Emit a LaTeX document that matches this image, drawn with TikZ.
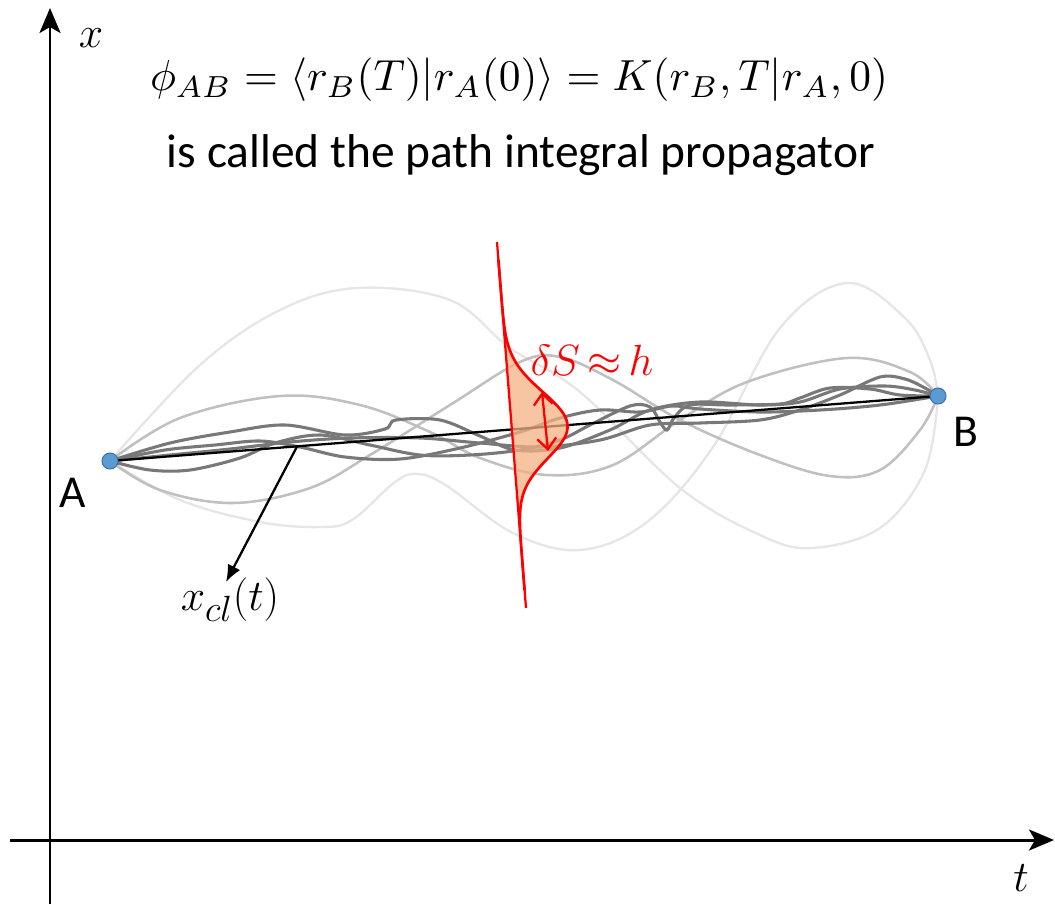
\documentclass[tikz,border=0pt]{standalone}
\usepackage{fontspec}
\newfontfamily\calib{Carlito}
\usetikzlibrary{arrows.meta,calc}
\definecolor{dotblue}{HTML}{5B9BD5}
\definecolor{dotedge}{HTML}{41719C}
\definecolor{peach}{HTML}{F4B183}
\definecolor{gdark}{HTML}{787878}
\definecolor{gmed}{HTML}{C0C0C0}
\definecolor{glight}{HTML}{E6E6E6}
\tikzset{
  axis/.style={line width=1.7pt,-{Stealth[length=0.5cm,width=0.42cm,inset=0.12cm]}},
  darkpath/.style={gdark,line width=1.75pt},
  medpath/.style={gmed,line width=1.45pt},
  lightpath/.style={glight,line width=1.35pt},
  dotnode/.style={circle,fill=dotblue,draw=dotedge,line width=0.6pt,minimum size=0.32cm,inner sep=0pt},
  sanslabel/.style={font=\calib\fontsize{26}{30}\selectfont,inner sep=0pt},
  itlabel/.style={font=\fontsize{24.88}{30}\selectfont,inner sep=0pt},
}
\begin{document}
\begin{tikzpicture}[x=0.02cm,y=-0.02cm]
\useasboundingbox (0,0) rectangle (1055,904);
% axes
\coordinate (ax0) at (50,904);
\coordinate (ax1) at (50,8);
\coordinate (at0) at (10,840);
\coordinate (at1) at (1054,840);
\draw[axis] (ax0) -- (ax1);
\draw[axis] (at0) -- (at1);
\node[itlabel] (xlab) at (91,38) {$x$};
\node[itlabel] (tlab) at (1021,878) {$t$};
% header
\node[inner sep=0pt] (eq) at (519,80) {\resizebox{14.76cm}{!}{$\phi_{AB}=\langle r_B(T)|r_A(0)\rangle = K(r_B,T|r_A,0)$}};
\node[font=\calib\fontsize{27}{32}\selectfont,inner sep=0pt] (txt) at (521,155) {is called the path integral propagator};
% endpoints
\coordinate (pA) at (110,461);
\coordinate (pB) at (938,396);
% light paths
\draw[lightpath] plot[smooth,tension=0.6] coordinates {(110,461) (200,365) (280,310) (357,288) (450,300) (510,348) (580,392) (680,488) (760,535) (812,548) (880,528) (925,470) (938,396)};
\draw[lightpath] plot[smooth,tension=0.6] coordinates {(110,461) (180,500) (260,522) (320,527) (352,520) (395,482) (418,474) (447,486) (513,533) (580,550) (647,522) (713,447) (780,328) (847,283) (905,318) (930,360) (938,396)};
% medium paths
\draw[medpath] plot[smooth,tension=0.6] coordinates {(110,461) (180,418) (280,396) (360,405) (430,432) (480,458) (547,475) (613,465) (680,420) (747,382) (847,358) (910,372) (938,396)};
\draw[medpath] plot[smooth,tension=0.6] coordinates {(110,461) (160,490) (233,503) (310,488) (370,455) (450,405) (520,362) (560,357) (613,380) (680,420) (760,455) (830,476) (880,470) (920,430) (938,396)};
% dark paths
\draw[darkpath] plot[smooth,tension=0.55] coordinates {(110,461) (170,443) (230,432) (285,425) (345,435) (385,429) (396,420) (440,420) (480,436) (515,450) (560,448) (610,430) (650,410) (700,402) (760,405) (800,402) (840,389) (885,386) (915,390) (938,396)};
\draw[darkpath] plot[smooth,tension=0.55] coordinates {(110,461) (165,450) (215,445) (260,441) (300,447) (345,457) (400,459) (460,448) (520,432) (560,418) (600,410) (640,412) (672,406) (700,409) (760,412) (820,410) (880,405) (938,396)};
\draw[darkpath] plot[smooth,tension=0.55] coordinates {(110,461) (150,470) (190,470) (240,458) (275,443) (320,435) (370,445) (420,455) (470,455) (520,450) (560,440) (590,425) (630,406) (650,407) (660,422) (667,430) (674,418) (690,405) (730,405) (780,404) (800,398) (830,388) (870,389) (900,395) (938,396)};
\draw[darkpath] plot[smooth,tension=0.55] coordinates {(110,461) (170,455) (230,449) (290,442) (350,438) (420,438) (480,443) (540,447) (600,440) (650,425) (700,423) (760,420) (800,410) (840,395) (880,377) (905,379) (925,388) (938,396)};
% classical path
\draw[line width=1.3pt] (pA) -- (pB);
\coordinate (cpt) at ($(pA)!0.226!(pB)$);
\coordinate (ctip) at (226,582);
\draw[line width=1.3pt,-{Latex[length=0.34cm,width=0.28cm]}] (cpt) -- (ctip);
\node[itlabel,anchor=center] (xcl) at (230,600) {$x_{cl}(t)$};
% red gaussian
\coordinate (r0) at (497,242);
\coordinate (r3) at (526,608);
\fill[peach,fill opacity=0.75] plot[domain=-5:5,samples=140,variable=\u] ({511.5+2.615*\u+56*exp(-\u*\u/2)},{425+33*\u}) -- cycle;
\draw[red,line width=1.3pt] (r0) -- (r3);
\draw[red,line width=1.5pt] plot[domain=-5:5,samples=140,variable=\u] ({511.5+2.615*\u+56*exp(-\u*\u/2)},{425+33*\u});
\coordinate (r1) at (542,392);
\coordinate (r2) at (548,451);
\draw[red,line width=1.3pt,{Straight Barb[length=0.22cm,width=0.38cm]}-{Straight Barb[length=0.22cm,width=0.38cm]}] (r1) -- (r2);
\node[red,font=\fontsize{24.88}{30}\selectfont,inner sep=0pt,anchor=base] (dS) at (592,375) {$\delta S\mkern3mu{\approx}\mkern3mu h$};
% dots and labels
\node[dotnode] (A) at (pA) {};
\node[dotnode] (B) at (pB) {};
\node[sanslabel] (Alab) at (73,493) {A};
\node[sanslabel] (Blab) at (966,432) {B};
\end{tikzpicture}
\end{document}
